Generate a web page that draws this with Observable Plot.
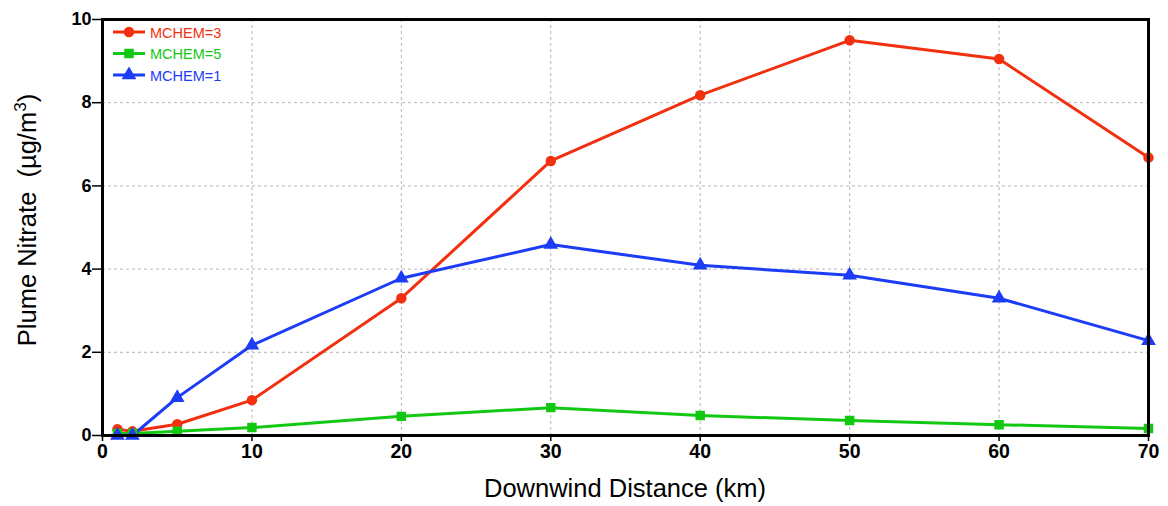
<!DOCTYPE html>
<html>
<head>
<meta charset="utf-8">
<script src="https://cdn.jsdelivr.net/npm/d3@7"></script>
<script src="https://cdn.jsdelivr.net/npm/@observablehq/plot@0.6"></script>
<style>
  body { margin: 0; background: #fff; }
  #chart svg { display: block; }
</style>
</head>
<body>
<div id="chart"></div>
<script>
const distances = [1, 2, 5, 10, 20, 30, 40, 50, 60, 70];
const mchem3 = [0.15, 0.10, 0.27, 0.85, 3.30, 6.60, 8.18, 9.50, 9.05, 6.68];
const mchem5 = [0.05, 0.05, 0.10, 0.19, 0.46, 0.67, 0.48, 0.36, 0.26, 0.17];
const mchem1 = [0.00, 0.00, 0.91, 2.17, 3.78, 4.59, 4.09, 3.85, 3.30, 2.28];
const seriesNames = ["MCHEM=3", "MCHEM=5", "MCHEM=1"];
const seriesColors = ["#f2300f", "#12c812", "#1c3cf5"];
const seriesSymbols = ["circle", "square", "triangle"];
const xTicks = [0, 10, 20, 30, 40, 50, 60, 70];
const yTicks = [0, 2, 4, 6, 8, 10];

const seriesValues = [mchem3, mchem5, mchem1];
const rows = [];
seriesNames.forEach((name, i) => {
  distances.forEach((d, j) => rows.push({series: name, x: d, y: seriesValues[i][j]}));
});

const FONT = "Liberation Sans, Arial, Helvetica, sans-serif";
const W = 1168, H = 506;
const plot = Plot.plot({
  width: W,
  height: H,
  marginLeft: 102,
  marginRight: 20,
  marginTop: 19,
  marginBottom: 71,
  style: {fontFamily: FONT, background: "#fff"},
  x: {domain: [0, 70], ticks: xTicks, label: null},
  y: {domain: [0, 10], ticks: yTicks, label: null},
  color: {domain: seriesNames, range: seriesColors},
  symbol: {domain: seriesNames, range: seriesSymbols},
  marks: [
    Plot.ruleX(xTicks.slice(1, -1), {stroke: "#b5b5b5", strokeDasharray: "3,3", strokeWidth: 1}),
    Plot.ruleY(yTicks.slice(1, -1), {stroke: "#b5b5b5", strokeDasharray: "3,3", strokeWidth: 1}),
    Plot.axisX({ticks: xTicks, tickSize: 6, tickPadding: 3, stroke: "#000", strokeWidth: 1.5, fill: "#000"}),
    Plot.axisY({ticks: yTicks, tickSize: 10, tickPadding: 1, stroke: "#000", strokeWidth: 1.5, fill: "#000"}),
    Plot.line(rows, {x: "x", y: "y", z: "series", stroke: "series", strokeWidth: 3}),
    Plot.dot(rows, {x: "x", y: "y", stroke: "series", fill: "series", symbol: "series", r: 4.5, strokeWidth: 1.5}),
    Plot.frame({stroke: "#000", strokeWidth: 3})
  ]
});
document.getElementById("chart").appendChild(plot);

const svg = d3.select(plot);
// tick label styling
svg.selectAll('g[aria-label="x-axis tick label"]')
  .attr("font-size", 19.5)
  .attr("font-weight", "bold")
  .attr("font-family", FONT);
svg.selectAll('g[aria-label="y-axis tick label"]')
  .attr("font-size", 18)
  .attr("font-weight", "bold")
  .attr("font-family", FONT);

// axis labels
svg.append("text")
  .attr("x", 625).attr("y", 497)
  .attr("text-anchor", "middle")
  .attr("font-family", FONT)
  .attr("font-size", 25.5)
  .attr("fill", "#000")
  .text("Downwind Distance (km)");

const yl = svg.append("text")
  .attr("transform", "translate(36,220) rotate(-90)")
  .attr("text-anchor", "middle")
  .attr("font-family", FONT)
  .attr("font-size", 25.5)
  .attr("fill", "#000");
yl.append("tspan").text("Plume Nitrate  (µg/m");
yl.append("tspan").attr("dy", -10).attr("font-size", 17).text("3");
yl.append("tspan").attr("dy", 10).text(")");

// legend
const lg = svg.append("g").attr("font-family", FONT);
const d3Symbols = [d3.symbolCircle, d3.symbolSquare, d3.symbolTriangle];
seriesNames.forEach((name, i) => {
  const y = 32 + i * 21.5;
  lg.append("line").attr("x1", 113).attr("x2", 145).attr("y1", y).attr("y2", y)
    .attr("stroke", seriesColors[i]).attr("stroke-width", 3);
  lg.append("path").attr("d", d3.symbol(d3Symbols[i], 64)()).attr("transform", `translate(129,${y})`)
    .attr("fill", seriesColors[i]).attr("stroke", seriesColors[i]).attr("stroke-width", 1.5);
  lg.append("text").attr("x", 150).attr("y", y + 5.5).attr("font-size", 14.5)
    .attr("text-anchor", "start")
    .attr("fill", seriesColors[i]).text(name);
});
</script>
</body>
</html>
